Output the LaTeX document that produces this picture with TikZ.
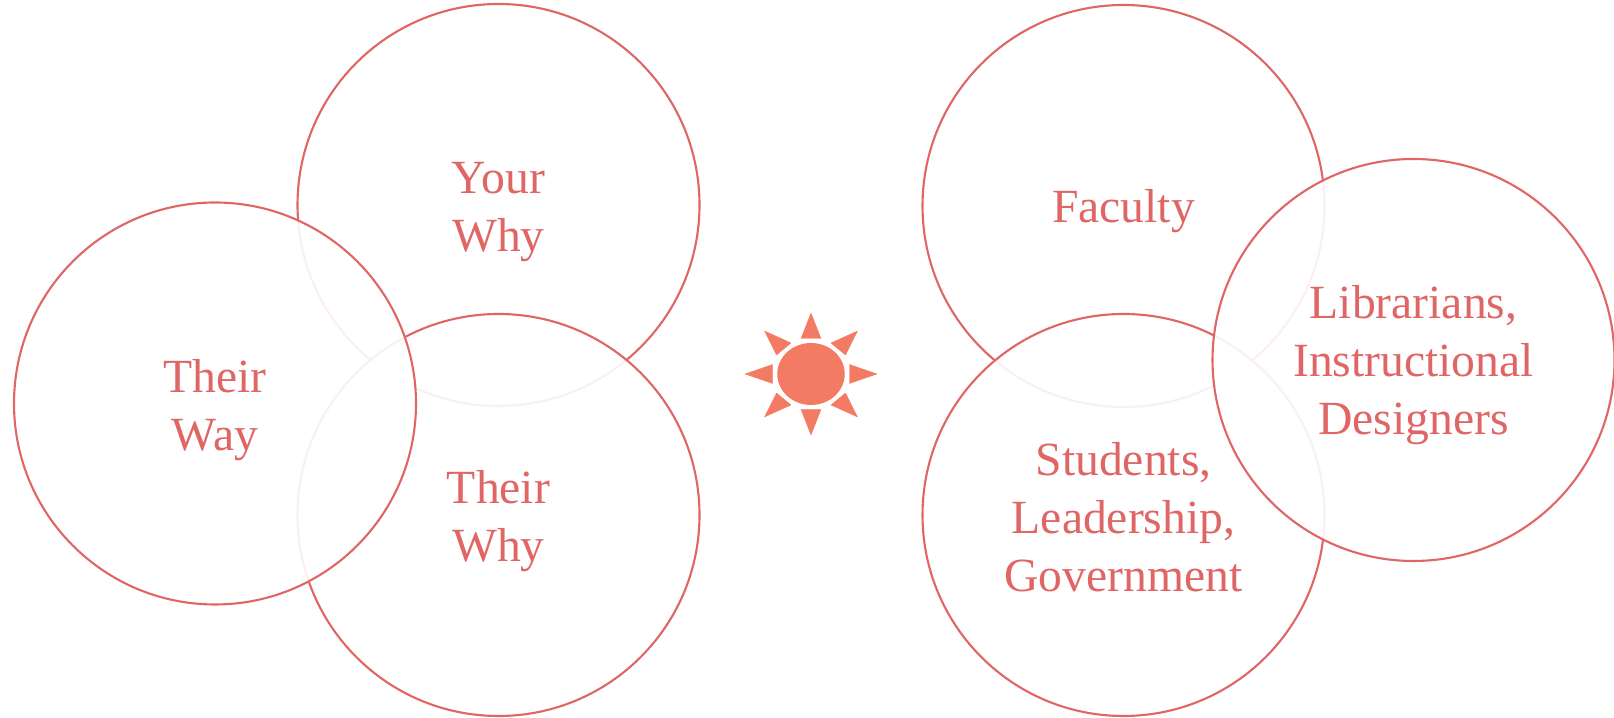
\documentclass[tikz,border=0pt]{standalone}
\usepackage{fontspec}
\setmainfont{Liberation Serif}
\usetikzlibrary{shapes.geometric}
\definecolor{vennred}{HTML}{E06666}
\definecolor{sunred}{HTML}{F47B63}
\tikzset{
  venn/.style={circle,draw=vennred,line width=1.2pt,fill=white,fill opacity=0.9,
    minimum size=8.04cm,inner sep=0pt,outer sep=0pt},
  vennlabel/.style={text=vennred,align=center,inner sep=0pt,font=\fontsize{27.1}{33}\selectfont},
  sunray/.style={fill=sunred,draw=sunred,line width=0.2pt,line join=round}
}
\begin{document}
\begin{tikzpicture}
    \useasboundingbox (0,0) rectangle (32.28,14.36);
    \node[venn] (yourwhy) at (9.97,10.26) {};
    \node[venn] (theirwhy) at (9.97,4.06) {};
    \node[venn] (theirway) at (4.30,6.29) {};
    \node[venn] (faculty) at (22.47,10.24) {};
    \node[venn] (students) at (22.47,4.06) {};
    \node[venn] (librarians) at (28.27,7.16) {};
    \node[vennlabel,yshift=-.15cm] (yourwhytext) at (yourwhy) {Your\\Why};
    \node[vennlabel,yshift=-.12cm] (theirwhytext) at (theirwhy) {Their\\Why};
    \node[vennlabel,yshift=-.13cm] (theirwaytext) at (theirway) {Their\\Way};
    \node[vennlabel,yshift=-.10cm] (facultytext) at (faculty) {Faculty};
    \node[vennlabel,yshift=-.04cm] (studentstext) at (students) {Students,\\Leadership,\\Government};
    \node[vennlabel,yshift=-.10cm] (librarianstext) at (librarians) {Librarians,\\Instructional\\Designers};
    \node[ellipse,fill=sunred,minimum width=1.35cm,minimum height=1.24cm,inner sep=0pt] (sun) at (16.22,6.88) {};
    \begin{scope}[shift={(sun.center)}]
      \foreach \s in {1,-1} {
        \filldraw[sunray] (0,1.22*\s) -- (-.2,.71*\s) -- (.2,.71*\s) -- cycle;
        \filldraw[sunray] (1.32*\s,0) -- (.77*\s,.19) -- (.77*\s,-.19) -- cycle;
        \filldraw[sunray] (.93*\s,.86) -- (.40*\s,.62) -- (.69*\s,.38) -- cycle;
        \filldraw[sunray] (.93*\s,-.86) -- (.40*\s,-.62) -- (.69*\s,-.38) -- cycle;
      }
    \end{scope}
\end{tikzpicture}
\end{document}
